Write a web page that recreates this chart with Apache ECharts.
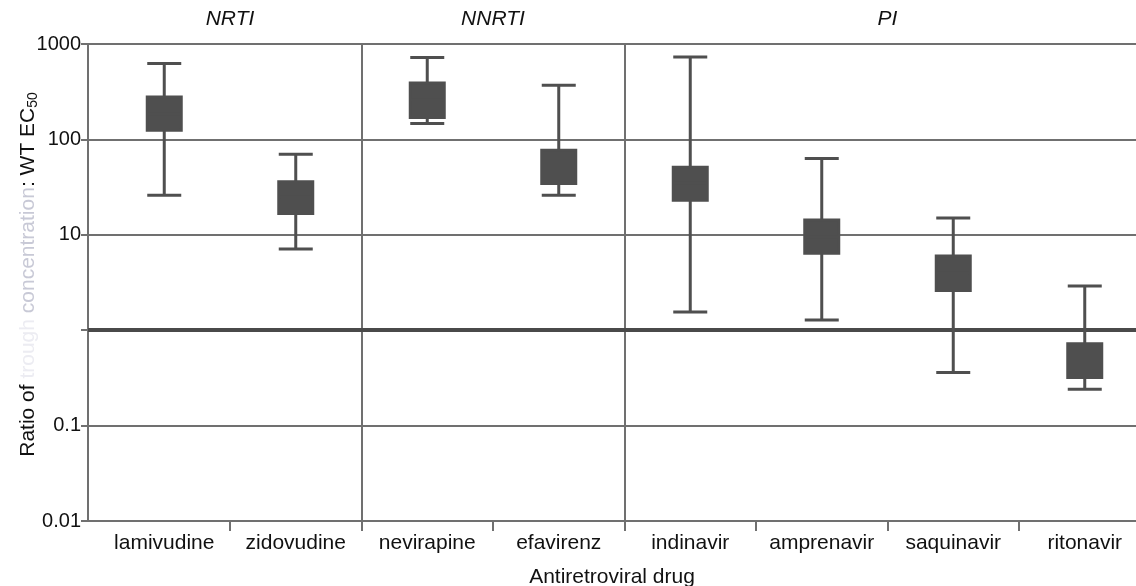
<!DOCTYPE html>
<html>
<head>
<meta charset="utf-8">
<script src="https://cdn.jsdelivr.net/npm/echarts@6/dist/echarts.min.js"></script>
<style>
html,body{margin:0;padding:0;background:#fff;}
#c{width:1136px;height:586px;}
</style>
</head>
<body>
<div id="c"></div>
<script>
// ---- data ----
const categories = ['lamivudine','zidovudine','nevirapine','efavirenz','indinavir','amprenavir','saquinavir','ritonavir'];
const lowVals  = [26,   7.1,  147, 26,   1.55, 1.28, 0.36, 0.24];
const q1Vals   = [125,  16.7, 170, 34.5, 23,   6.4,  2.6,  0.32];
const medVals  = [185,  25,   260, 52,   35,   9.5,  4.0,  0.48];
const q3Vals   = [278,  36,   390, 77,   51,   14.3, 6.0,  0.72];
const highVals = [625,  70,   720, 370,  730,  63,   15,   2.9];
const groupNames = ['NRTI','NNRTI','PI'];
const groupFirst = [0, 2, 4];
const groupLast  = [1, 3, 7];
const separatorTicks = [2, 4];
const yTickLabels = ['0.01','0.1','','10','100','1000'];
const referenceRatio = 1;

const FONT = 'Liberation Sans, Arial, Helvetica, sans-serif';
const GRID_COLOR = '#707070';
const BOX_COLOR = '#4f4f4f';

const boxData = categories.map((c, i) => [lowVals[i], q1Vals[i], medVals[i], q3Vals[i], highVals[i]]);

const chart = echarts.init(document.getElementById('c'), null, {renderer:'canvas'});
chart.setOption({
  animation:false,
  backgroundColor:'#fff',
  grid:[
    {left:88, right:0, top:44, height:477, outerBoundsMode:'none'},
    {left:98.5, width:1052, top:44, height:477, outerBoundsMode:'none'}
  ],
  xAxis:[
    {
      type:'value', gridIndex:0, min:0, max:1,
      axisLine:{show:true, lineStyle:{color:GRID_COLOR, width:2}},
      axisTick:{show:false}, axisLabel:{show:false}, splitLine:{show:false},
      name:'Antiretroviral drug', nameLocation:'middle', nameGap:46, nameMoveOverlap:false,
      nameTextStyle:{fontFamily:FONT, fontSize:21, color:'#111'}
    },
    {
      type:'category', gridIndex:1, data:categories, boundaryGap:true,
      axisLine:{show:false},
      axisTick:{show:true, length:10, interval:function(i){return i!==0;}, lineStyle:{color:GRID_COLOR, width:2}},
      axisLabel:{fontFamily:FONT, fontSize:21, color:'#111', margin:12, interval:0},
      splitLine:{show:true, interval:function(i){return separatorTicks.indexOf(i)>=0;}, lineStyle:{color:GRID_COLOR, width:2}}
    }
  ],
  yAxis:[
    {
      type:'log', gridIndex:0, logBase:10, min:0.01, max:1000,
      axisLine:{show:true, lineStyle:{color:GRID_COLOR, width:2}},
      axisTick:{show:true, length:7, lineStyle:{color:GRID_COLOR, width:2}},
      axisLabel:{fontFamily:FONT, fontSize:20, color:'#111', margin:7,
        formatter:function(v, idx){return yTickLabels[idx] !== undefined ? yTickLabels[idx] : '';}},
      splitLine:{show:true, lineStyle:{color:GRID_COLOR, width:2}},
      minorTick:{show:false},
      name:'{a|Ratio of }{f|trough }{g|concentration}{a|: WT EC}{s|50}',
      nameLocation:'middle', nameGap:48, nameRotate:90, nameMoveOverlap:false,
      nameTextStyle:{
        padding:[0,0,0,16],
        rich:{
          a:{fontFamily:FONT, fontSize:21, color:'#111'},
          f:{fontFamily:FONT, fontSize:21, color:'#ececf2'},
          g:{fontFamily:FONT, fontSize:21, color:'#c8c9d6'},
          s:{fontFamily:FONT, fontSize:14, color:'#111', verticalAlign:'bottom', padding:[9,0,0,0]}
        }
      }
    },
    {
      type:'log', gridIndex:1, logBase:10, min:0.01, max:1000, show:false,
      splitLine:{show:false}
    }
  ],
  series:[
    {
      type:'line', xAxisIndex:0, yAxisIndex:0, data:[], silent:true,
      markLine:{
        silent:true, symbol:'none', animation:false,
        label:{show:false},
        lineStyle:{color:'#4a4a4a', width:4, type:'solid'},
        data:[{yAxis:referenceRatio}]
      }
    },
    {
      type:'boxplot', xAxisIndex:1, yAxisIndex:1,
      data:boxData,
      boxWidth:[34,34],
      itemStyle:{color:BOX_COLOR, borderColor:BOX_COLOR, borderWidth:3},
      z:5
    },
    {
      type:'custom', xAxisIndex:1, yAxisIndex:1, silent:true, clip:false,
      data:groupNames.map((n,i)=>[i]),
      renderItem:function(params, api){
        const i = api.value(0);
        const p0 = api.coord([groupFirst[i], 1000]);
        const p1 = api.coord([groupLast[i], 1000]);
        return {
          type:'text',
          style:{
            x:(p0[0]+p1[0])/2, y:p0[1]-25,
            text:groupNames[i], textAlign:'center', textVerticalAlign:'middle',
            fontFamily:FONT, fontSize:21, fontStyle:'italic', fill:'#111'
          }
        };
      }
    }
  ]
});
</script>
</body>
</html>
